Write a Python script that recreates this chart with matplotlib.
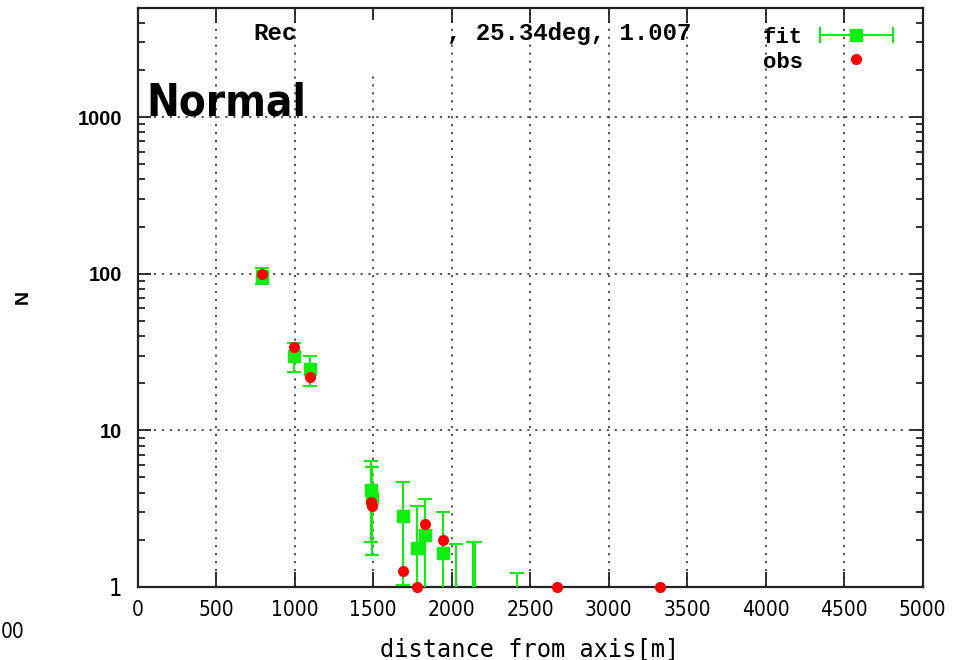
"""Lateral distribution: fit vs observed particle counts (log N vs distance)."""
import matplotlib
matplotlib.use("Agg")
import matplotlib.pyplot as plt
from matplotlib import font_manager as fm
from matplotlib.patches import Rectangle

# ---- data ----
fit_x = [790, 995, 1100, 1490, 1495, 1690, 1780, 1830, 1945, 2030, 2140, 2150, 2415]
fit_n = [97, 30, 24.5, 4.15, 3.7, 2.85, 1.77, 2.14, 1.65, 0.6, 0.6, 0.65, 0.35]
fit_err = [11.6, 6.3, 5.35, 2.2, 2.1, 1.82, 1.5, 1.52, 1.34, 1.29, 1.33, 1.3, 0.885]

obs_x = [790, 995, 1100, 1490, 1495, 1690, 1780, 1830, 1945, 2670, 3330]
obs_n = [100, 33.9, 22.0, 3.5, 3.3, 1.27, 1.0, 2.52, 1.99, 1.0, 1.0]

x_ticks = list(range(0, 5001, 500))
y_ticks = [1, 10, 100, 1000]

GREEN = "#10ee10"
RED = "#ff0000"
FRAME = "#222222"
MONO = ["Liberation Mono", "DejaVu Sans Mono"]

STRETCH = {"ultra-condensed": 100, "extra-condensed": 200, "condensed": 300,
           "semi-condensed": 400}


def find_narrow(bold):
    """Pick the most condensed installed sans face, if there is one."""
    best = None
    for f in fm.fontManager.ttflist:
        st = f.stretch
        name = f.name.lower()
        if isinstance(st, str):
            sv = STRETCH.get(st, 500)
        else:
            sv = st
        if "narrow" in name or "condensed" in name:
            sv = min(sv, 300)
        if sv >= 500 or "mono" in name or f.style != "normal":
            continue
        w = f.weight if isinstance(f.weight, (int, float)) else \
            {"bold": 700, "normal": 400, "regular": 400}.get(str(f.weight), 400)
        score = (sv, abs(w - (700 if bold else 400)))
        if best is None or score < best[0]:
            best = (score, f.fname)
    return fm.FontProperties(fname=best[1]) if best else None


narrow_bold = find_narrow(True)
narrow_reg = find_narrow(False)

W, H = 960, 660
fig = plt.figure(figsize=(W / 100, H / 100), dpi=100)
L, R, B, T = 137.5, 922.5, 587.0, 7.5
ax = fig.add_axes([L / W, 1 - B / H, (R - L) / W, (B - T) / H])


def ax_xy(px, py):
    return (px - L) / (R - L), (B - py) / (B - T)


def narrow_kw(size, bold=False):
    fp = narrow_bold if bold else narrow_reg
    if fp is None:
        return dict(family="DejaVu Sans", fontweight="bold" if bold else "normal",
                    fontsize=size * 0.72 if bold else size * 0.9)
    fp = fp.copy()
    fp.set_size(size)
    return dict(fontproperties=fp)


ax.set_yscale("log")
ax.set_xlim(0, 5000)
ax.set_ylim(1, 5000)

ax.set_axisbelow(True)
ax.grid(True, which="major", color="#444444", linestyle=(0, (1.2, 3.2)), lw=1.3)

ax.errorbar(fit_x, fit_n, yerr=fit_err, fmt="s", color=GREEN, ms=8, mec=GREEN,
            elinewidth=1.5, capsize=5, capthick=1.5, zorder=3)
ax.plot(obs_x, obs_n, "o", color=RED, ms=7, mec=RED, zorder=4, clip_on=False)

for s in ax.spines.values():
    s.set_color(FRAME)
    s.set_linewidth(1.6)

ax.set_xticks(x_ticks)
ax.set_xticklabels([str(v) for v in x_ticks], **narrow_kw(15))
ax.set_yticks(y_ticks)
ax.set_yticklabels([str(v) for v in y_ticks], family="Liberation Sans",
                   fontweight="bold", fontsize=14.5)
one = ax.get_yticklabels()[0]
one.update(narrow_kw(17))
ax.tick_params(which="both", direction="in", top=True, right=True,
               color=FRAME, width=1.3)
ax.tick_params(axis="x", which="major", length=11, pad=9)
ax.tick_params(axis="y", which="major", length=9.5, pad=11)
ax.tick_params(axis="y", which="minor", length=5)

ax.set_xlabel("distance from axis[m]", family="DejaVu Sans Mono", fontsize=17)
ax.xaxis.set_label_coords(0.5, ax_xy(0, 637)[1])
ax.set_ylabel("N", family="Liberation Sans", fontweight="bold", fontsize=14)
ax.yaxis.set_label_coords(ax_xy(32, 0)[0], 0.5)

# redacted part of the title
bx0, by1 = ax_xy(300, 20)
bx1, by0 = ax_xy(446, 72)
ax.add_patch(Rectangle((bx0, by0), bx1 - bx0, by1 - by0, transform=ax.transAxes,
                       facecolor="white", edgecolor="none", zorder=1))

tx, ty = ax_xy(253, 40)
ax.text(tx, ty, "Rec", transform=ax.transAxes, family=MONO, fontweight="bold",
        fontsize=17.5, va="baseline", ha="left", zorder=5)
tx, ty = ax_xy(691, 40)
ax.text(tx, ty, ", 25.34deg, 1.007", transform=ax.transAxes, family=MONO,
        fontweight="bold", fontsize=17.3, va="baseline", ha="right", zorder=5)

# big condition label, sized so that it spans the same width as in the reference
tx, ty = ax_xy(146, 116)
label = ax.text(tx, ty, "Normal", transform=ax.transAxes, va="baseline",
                ha="left", zorder=5, **narrow_kw(44, bold=True))
rend = fig.canvas.get_renderer()
wpx = label.get_window_extent(rend).width
if wpx > 160:
    label.set_fontsize(44 * 160 / wpx)

# legend in gnuplot style
tx, ty = ax_xy(803, 43)
ax.text(tx, ty, "fit", transform=ax.transAxes, family=MONO, fontweight="bold",
        fontsize=16, va="baseline", ha="right")
tx, ty = ax_xy(803, 68)
ax.text(tx, ty, "obs", transform=ax.transAxes, family=MONO, fontweight="bold",
        fontsize=16, va="baseline", ha="right")
lx, ly = ax_xy(856, 35)
hw = 36.5 / (R - L)
ax.errorbar([lx], [ly], xerr=[hw], fmt="s", color=GREEN, ms=8, mec=GREEN,
            elinewidth=1.5, capsize=6, capthick=1.5, transform=ax.transAxes,
            clip_on=False)
lx, ly = ax_xy(856, 59)
ax.plot([lx], [ly], "o", color=RED, ms=7, mec=RED, transform=ax.transAxes,
        clip_on=False)

fig.text(1 / W, 1 - 632 / H, "00", ha="left", va="center", **narrow_kw(15))

fig.savefig("out.png", dpi=100)
